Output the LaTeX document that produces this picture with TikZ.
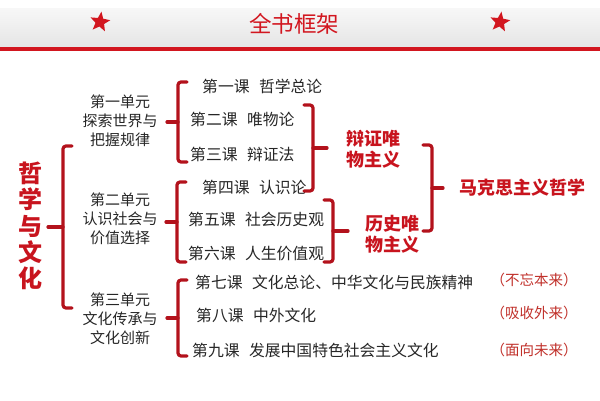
\documentclass[tikz,border=0pt]{standalone}
\usepackage{fontspec}
\setmainfont{Noto Sans CJK SC}
\usetikzlibrary{positioning,calc,shapes.geometric}
\definecolor{brkred}{HTML}{B3121C}
\definecolor{labred}{HTML}{C8141E}
\definecolor{notered}{HTML}{C0302A}
\definecolor{barred}{HTML}{D2161F}
\tikzset{
  brk/.style    = {draw=brkred, line width=3.2pt, rounded corners=3pt, line cap=round},
  unit/.style   = {align=center, inner sep=0pt, text=black!85,
                   font=\fontsize{15}{19}\selectfont},
  lesson/.style = {anchor=west, inner sep=0pt, text=black!85,
                   font=\fontsize{15.8}{19}\selectfont},
  sumup/.style  = {align=center, inner sep=0pt, text=labred,
                   font=\fontsize{18}{21}\selectfont\bfseries},
  note/.style   = {inner sep=0pt, text=notered, font=\fontsize{14.5}{16}\selectfont},
  starmark/.style = {star, star points=5, star point ratio=2.3, fill=barred,
                   inner sep=0pt, minimum size=21pt, rotate=-8},
}
% left brace: tip, half height, arm
\newcommand{\lbrk}[3]{%
  \draw[brk] ($(#1)+(#3+9,-#2)$) -| ($(#1)+(#3,#2)$) -- ++(9,0);
  \draw[brk] (#1) -- ++(#3,0);}
% right brace: tip, half height, arm
\newcommand{\rbrk}[3]{%
  \draw[brk] ($(#1)+(-#3-9,-#2)$) -| ($(#1)+(-#3,#2)$) -- ++(-9,0);
  \draw[brk] (#1) -- ++(-#3,0);}
\newcommand{\gap}{\hspace{0.6em}}

\begin{document}
\begin{tikzpicture}[x=1pt, y=-1pt]
  \useasboundingbox (0,0) rectangle (600,400);
  % title bar
  \shade[top color=gray!6, bottom color=gray!20] (0,8) rectangle (600,46);
  \fill[barred] (0,47) rectangle (600,51);
  \node[text=barred, font=\fontsize{22.5}{24}\selectfont] (title) at (294,24) {全书框架};
  \node[starmark] (starl) at (100,22) {};
  \node[starmark] (starr) at (500,22) {};

  % book
  \node[sumup, font=\fontsize{24}{26.2}\selectfont\bfseries] (book) at (30,226)
    {哲\\学\\与\\文\\化};

  % units
  \node[unit] (u1) at (120,121) {第一单元\\探索世界与\\把握规律};
  \node[unit] (u2) at (120,219) {第二单元\\认识社会与\\价值选择};
  \node[unit] (u3) at (120,319) {第三单元\\文化传承与\\文化创新};

  % lessons
  \node[lesson] (l1) at (202,86)  {第一课\gap 哲学总论};
  \node[lesson] (l2) at (190,119) {第二课\gap 唯物论};
  \node[lesson] (l3) at (190,154) {第三课\gap 辩证法};
  \node[lesson] (l4) at (202,187) {第四课\gap 认识论};
  \node[lesson] (l5) at (188,219) {第五课\gap 社会历史观};
  \node[lesson] (l6) at (188,254) {第六课\gap 人生价值观};
  \node[lesson] (l7) at (195,282) {第七课\gap 文化总论、中华文化与民族精神};
  \node[lesson] (l8) at (196,315) {第八课\gap 中外文化};
  \node[lesson] (l9) at (192,350) {第九课\gap 发展中国特色社会主义文化};

  % summaries
  \node[sumup] (dia)  at (373,149) {辩证唯\\物主义};
  \node[sumup] (hist) at (392,234) {历史唯\\物主义};
  \node[sumup] (marx) at (522,188) {马克思主义哲学};

  \node[note] (n7) at (534,280) {（不忘本来）};
  \node[note] (n8) at (534,313) {（吸收外来）};
  \node[note] (n9) at (534,350) {（面向未来）};

  % braces
  \coordinate (bbook) at (48,227);
  \coordinate (bu1)   at (167,122);
  \coordinate (bu2)   at (166,222);
  \coordinate (bu3)   at (167,318);
  \coordinate (bdia)  at (327,148);
  \coordinate (bhist) at (348,231);
  \coordinate (bmarx) at (443,188);
  \lbrk{bbook}{81}{15}
  \lbrk{bu1}{40}{11}
  \lbrk{bu2}{40}{11}
  \lbrk{bu3}{38}{11}
  \rbrk{bdia}{43}{14}
  \rbrk{bhist}{31}{15}
  \rbrk{bmarx}{43}{11}
\end{tikzpicture}
\end{document}
